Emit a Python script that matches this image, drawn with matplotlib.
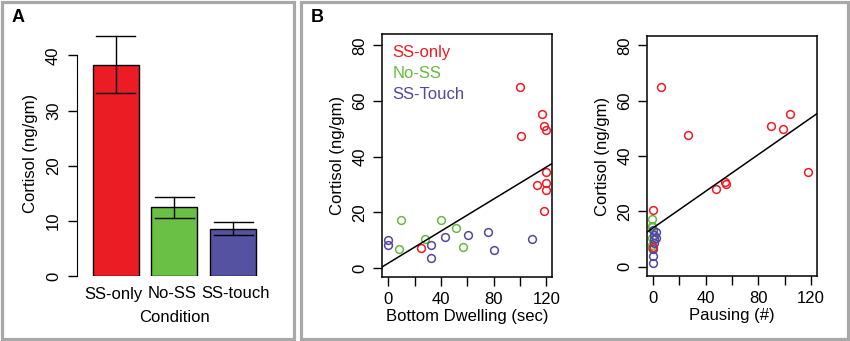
import matplotlib
matplotlib.use("Agg")
import matplotlib.pyplot as plt
from matplotlib.patches import Rectangle

plt.rcParams["font.family"] = ["Liberation Sans", "DejaVu Sans"]

# ---- dati ----
condizioni = ["SS-only", "No-SS", "SS-touch"]
media = [38.2, 12.55, 8.6]
err_alto = [43.5, 14.4, 9.8]
err_basso = [33.1, 10.6, 7.4]
col_barre = ["#ec1c24", "#6abf45", "#5652a2"]

# bottom dwelling (sec) vs cortisolo
red_bd = [99.9, 100.5, 116.6, 118.4, 119.7, 119.7, 113.1, 119.7, 119.7, 118.4, 24.8]
red_cort = [65.1, 47.5, 55.3, 51.0, 49.7, 34.4, 29.8, 30.5, 28.1, 20.5, 7.3]
green_bd = [9.6, 8.0, 27.6, 39.7, 51.6, 56.7]
green_cort = [17.2, 6.8, 10.5, 17.2, 14.5, 7.7]
blue_bd = [-0.3, -0.3, 32.6, 32.6, 43.3, 60.5, 75.6, 80.0, 108.8]
blue_cort = [10.2, 8.4, 8.4, 3.6, 11.2, 11.9, 13.1, 6.3, 10.3]

# pausing (#) vs cortisolo
red_pa = [5.8, 26.8, 103.7, 89.8, 98.7, 117.7, 55.1, 54.9, 47.8, -0.3, -0.3]
green_pa = [-0.5, -0.5, -0.5, -0.5, -0.5, -0.5]
green_cort_pa = [17.2, 6.8, 10.5, 14.6, 14.5, 7.7]
blue_pa = [-0.3, -0.3, -0.3, 1.0, 2.0, 1.0, 2.0, 0.0, 1.0]
blue_cort_pa = [1.3, 3.7, 6.5, 8.5, 10.5, 11.5, 12.5, 13.2, 10.0]

# rette di regressione (intercetta, pendenza)
fit_bd = (1.76, 0.288)
fit_pa = (14.0, 0.332)

RED, GREEN, BLUE = "#ee1c24", "#66bb3f", "#5347a0"

W, H = 850, 341
fig = plt.figure(figsize=(W / 100, H / 100), dpi=100)


def ax_px(l, t, r, b):
    return fig.add_axes([l / W, 1 - b / H, (r - l) / W, (b - t) / H])


# cornici grigie dei pannelli
for (l, t, r, b) in [(2, 2, 294, 339), (301, 2, 848, 339)]:
    fig.patches.append(Rectangle((l / W, 1 - b / H), (r - l) / W, (b - t) / H,
                                 transform=fig.transFigure, fill=False,
                                 ec="#a8a8a8", lw=2.3))

FS = 12

# ---- pannello A ----
axA = ax_px(77, 30, 270, 276)
x = [0, 1, 2]
axA.bar(x, media, width=0.78, color=col_barre, edgecolor="black", linewidth=1.0)
for xi, lo, hi in zip(x, err_basso, err_alto):
    axA.plot([xi, xi], [lo, hi], color="black", lw=1.0)
    axA.plot([xi - 0.33, xi + 0.33], [hi, hi], color="black", lw=1.0)
    axA.plot([xi - 0.33, xi + 0.33], [lo, lo], color="black", lw=1.0)
axA.set_xlim(-0.653, 2.62)
axA.set_ylim(0, 44.6)
for s in ["top", "right", "bottom"]:
    axA.spines[s].set_visible(False)
axA.spines["left"].set_bounds(0, 40)
axA.set_yticks([0, 10, 20, 30, 40])
axA.set_xticks([])
# etichette delle categorie, centrate come nell'originale
for cx, nome in zip([113.5, 172, 236], condizioni):
    fig.text(cx / W, 1 - 294 / H, nome, fontsize=12, ha="center", va="center")
fig.text(174 / W, 1 - 317 / H, "Condition", fontsize=12, ha="center", va="center")
axA.tick_params(axis="y", length=6.5, width=1.0, labelsize=FS, pad=5)
for lab in axA.get_yticklabels():
    lab.set_rotation(90)
    lab.set_va("center")
axA.set_ylabel("Cortisol (ng/gm)", fontsize=12, labelpad=6)
fig.text(12 / W, 1 - 18 / H, "A", fontsize=13, fontweight="bold", va="center")
fig.text(311 / W, 1 - 18 / H, "B", fontsize=13, fontweight="bold", va="center")


def scatter_panel(ax, xlim, ylim, punti, fit, xlabel):
    for xs, ys, c in punti:
        ax.plot(xs, ys, "o", mfc="none", mec=c, ms=5.6, mew=1.1, ls="none")
    a, b = fit
    ax.plot(xlim, [a + b * xlim[0], a + b * xlim[1]], color="black", lw=1.1)
    ax.set_xlim(*xlim)
    ax.set_ylim(*ylim)
    ax.set_xticks([0, 20, 40, 60, 80, 100, 120])
    ax.set_xticklabels(["0", "", "40", "", "80", "", "120"])
    ax.set_yticks([0, 20, 40, 60, 80])
    ax.tick_params(length=6.5, width=1.0, labelsize=FS, pad=4)
    for lab in ax.get_yticklabels():
        lab.set_rotation(90)
        lab.set_va("center")
    for s in ax.spines.values():
        s.set_linewidth(1.1)
    ax.set_ylabel("Cortisol (ng/gm)", fontsize=12, labelpad=5)
    ax.set_xlabel(xlabel, fontsize=12, labelpad=2)


axB1 = ax_px(382, 34, 552, 277)
scatter_panel(axB1, (-4.86, 124.2), (-3.24, 84.1),
              [(green_bd, green_cort, GREEN), (blue_bd, blue_cort, BLUE),
               (red_bd, red_cort, RED)],
              fit_bd, "Bottom Dwelling (sec)")
for i, (nome, c) in enumerate([("SS-only", RED), ("No-SS", GREEN), ("SS-Touch", BLUE)]):
    axB1.text(0.06, 1 - (18.4 + 21.3 * i) / 243, nome, color=c, fontsize=12,
              transform=axB1.transAxes, va="center")

axB2 = ax_px(647, 36, 817, 276)
scatter_panel(axB2, (-4.56, 124.5), (-3.36, 83.4),
              [(green_pa, green_cort_pa, GREEN), (blue_pa, blue_cort_pa, BLUE),
               (red_pa, red_cort, RED)],
              fit_pa, "Pausing (#)")

fig.savefig("out.png", dpi=100)
